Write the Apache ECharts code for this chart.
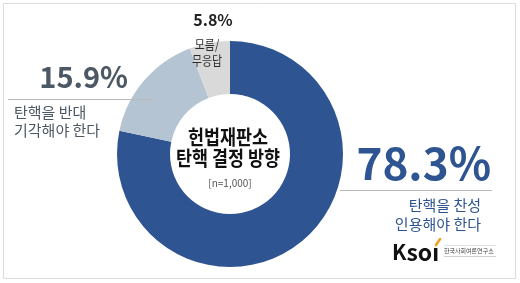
<!DOCTYPE html>
<html>
<head>
<meta charset="utf-8">
<style>
  html, body { margin: 0; padding: 0; background: #ffffff; }
  #chart { width: 520px; height: 283px; }
</style>
<script src="https://cdn.jsdelivr.net/npm/echarts@6/dist/echarts.min.js"></script>
</head>
<body>
<div id="chart"></div>
<script>
// Survey: 헌법재판소 탄핵 결정 방향 (n=1,000)
const categories = ['탄핵을 찬성\n인용해야 한다', '탄핵을 반대\n기각해야 한다', '모름/\n무응답'];
const values = [78.3, 15.9, 5.8];
const colors = ['#2e5591', '#b5c4d3', '#d9d9d9'];
const centerTitle = '헌법재판소\n탄핵 결정 방향';
const sampleNote = '[n=1,000]';

const FONT = '"Noto Sans CJK KR", "Noto Sans", sans-serif';
const pct = v => v.toFixed(1) + '%';

const chart = echarts.init(document.getElementById('chart'), null, { renderer: 'canvas' });

// overlay element helper: keeps every annotation above the donut
const overlay = el => Object.assign({ z: 100, silent: true }, el);

chart.setOption({
  backgroundColor: '#ffffff',
  animation: false,
  series: [{
    type: 'pie',
    center: [230, 154],
    radius: [60, 113],
    startAngle: 90,
    clockwise: true,
    silent: true,
    z: 2,
    label: { show: false },
    labelLine: { show: false },
    data: categories.map((name, i) => ({
      name: name,
      value: values[i],
      itemStyle: { color: colors[i] }
    }))
  }],
  graphic: [
    // frame
    overlay({
      type: 'rect',
      shape: { x: 3.5, y: 3.5, width: 512, height: 275 },
      style: { fill: 'none', stroke: '#dcdcdc', lineWidth: 1 }
    }),
    // center caption
    overlay({
      type: 'text', x: 228, y: 148, scaleX: 0.85,
      style: {
        text: centerTitle, font: 'bold 20.5px ' + FONT, fill: '#111111',
        align: 'center', verticalAlign: 'middle', lineHeight: 21
      }
    }),
    overlay({
      type: 'text', x: 230, y: 183,
      style: {
        text: sampleNote, font: '10px ' + FONT, fill: '#555555',
        align: 'center', verticalAlign: 'middle'
      }
    }),
    // 모름/무응답
    overlay({
      type: 'text', x: 213, y: 20,
      style: {
        text: pct(values[2]), font: 'bold 16px ' + FONT, fill: '#222222',
        align: 'center', verticalAlign: 'middle'
      }
    }),
    overlay({
      type: 'text', x: 207, y: 52, scaleX: 0.84,
      style: {
        text: categories[2], font: '13px ' + FONT, fill: '#2a2a2a',
        align: 'center', verticalAlign: 'middle', lineHeight: 15.5
      }
    }),
    // 반대
    overlay({
      type: 'text', x: 128, y: 77,
      style: {
        text: pct(values[1]), font: 'bold 29px ' + FONT, fill: '#4c5864',
        align: 'right', verticalAlign: 'middle'
      }
    }),
    overlay({
      type: 'line',
      shape: { x1: 8, y1: 99.5, x2: 152, y2: 99.5 },
      style: { stroke: '#b9b9b9', lineWidth: 1 }
    }),
    overlay({
      type: 'text', x: 14, y: 121,
      style: {
        text: categories[1], font: '15px ' + FONT, fill: '#4c5864',
        align: 'left', verticalAlign: 'middle', lineHeight: 18
      }
    }),
    // 찬성
    overlay({
      type: 'text', x: 491, y: 163,
      style: {
        text: pct(values[0]), font: 'bold 44px ' + FONT, fill: colors[0],
        align: 'right', verticalAlign: 'middle'
      }
    }),
    overlay({
      type: 'line',
      shape: { x1: 340, y1: 190.5, x2: 492, y2: 190.5 },
      style: { stroke: '#b9b9b9', lineWidth: 1 }
    }),
    overlay({
      type: 'text', x: 481, y: 215,
      style: {
        text: categories[0], font: '15px ' + FONT, fill: colors[0],
        align: 'right', verticalAlign: 'middle', lineHeight: 19
      }
    }),
    // KSOI logo
    overlay({
      type: 'text', x: 392, y: 252,
      style: {
        text: '{k|K}{s|soı}',
        align: 'left', verticalAlign: 'middle',
        rich: {
          k: { font: 'bold 21px ' + FONT, fill: '#111111' },
          s: { font: 'bold 23px ' + FONT, fill: '#111111' }
        }
      }
    }),
    overlay({
      type: 'line',
      shape: { x1: 436, y1: 245, x2: 440, y2: 239 },
      style: { stroke: '#f0a020', lineWidth: 2.5, lineCap: 'round' }
    }),
    overlay({
      type: 'line',
      shape: { x1: 444, y1: 245.5, x2: 496, y2: 245.5 },
      style: { stroke: '#e2e2e2', lineWidth: 1 }
    }),
    overlay({
      type: 'text', x: 444, y: 251,
      style: {
        text: '한국사회여론연구소', font: '6px ' + FONT, fill: '#444444',
        align: 'left', verticalAlign: 'middle'
      }
    }),
    overlay({
      type: 'line',
      shape: { x1: 444, y1: 256.5, x2: 496, y2: 256.5 },
      style: { stroke: '#d0d0d0', lineWidth: 1 }
    })
  ]
});
</script>
</body>
</html>
